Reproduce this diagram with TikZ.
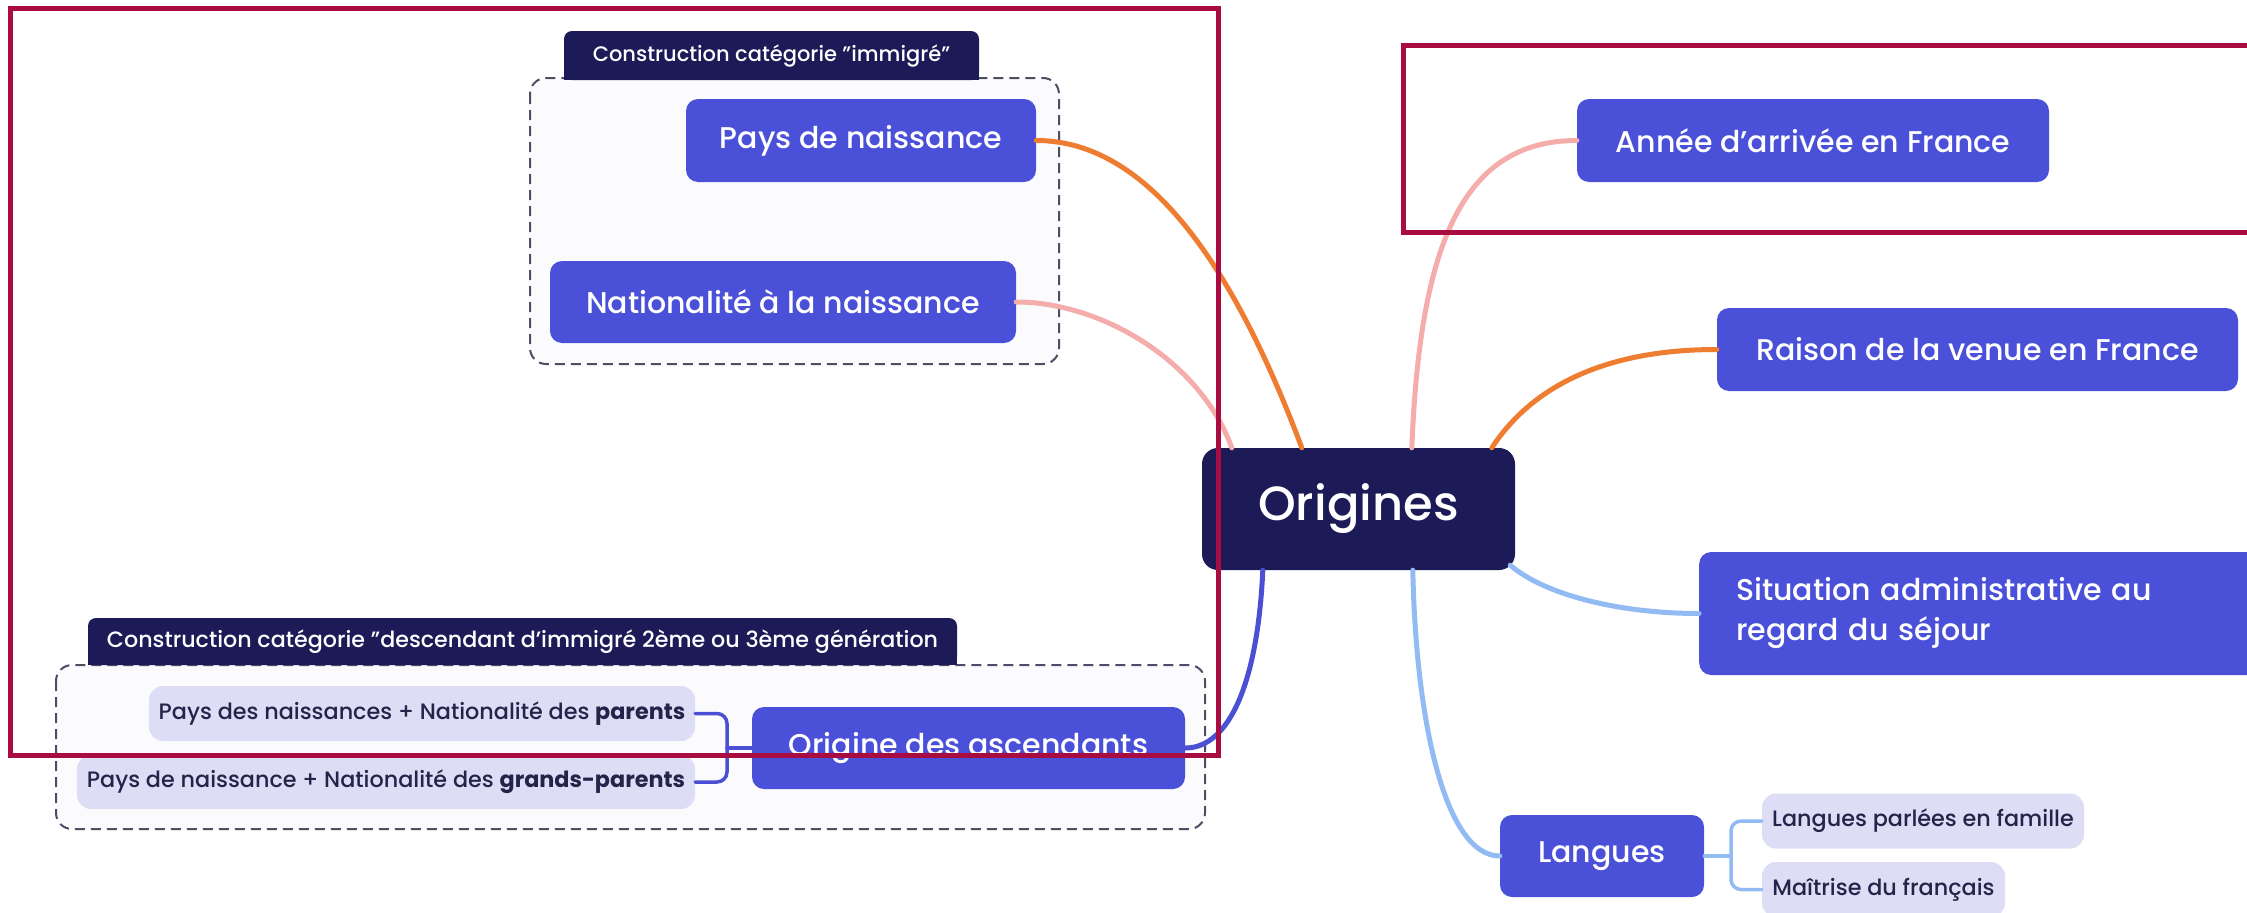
\documentclass[tikz,border=0pt]{standalone}
\usepackage{fontspec}
\setmainfont{Poppins}[UprightFont=*-Medium, BoldFont=*-Bold]
\usetikzlibrary{calc}

\definecolor{topicblue}{HTML}{4B50D9}
\definecolor{navy}{HTML}{1C1A57}
\definecolor{lav}{HTML}{DDDDF6}
\definecolor{ink}{HTML}{24244A}
\definecolor{linkorange}{HTML}{EF7D31}
\definecolor{linkpink}{HTML}{F4ADAA}
\definecolor{linksky}{HTML}{93BBF3}
\definecolor{linkindigo}{HTML}{4A4FD3}
\definecolor{crimson}{HTML}{A80C40}
\definecolor{dashgray}{HTML}{4D4D66}
\definecolor{boxfill}{HTML}{FBFBFD}

\tikzset{
  topic/.style={fill=topicblue, text=white, rounded corners=12pt, inner sep=0pt,
    align=center, font=\fontsize{30}{40}\selectfont},
  root/.style={fill=navy, text=white, rounded corners=16pt, inner sep=0pt,
    font=\fontsize{48}{56}\selectfont},
  leaf/.style={fill=lav, text=ink, rounded corners=14pt, inner sep=0pt,
    font=\fontsize{22.3}{27}\selectfont},
  headbox/.style={fill=navy, rounded corners=8pt, inner sep=0pt},
  headtext/.style={text=white, inner sep=0pt, font=\fontsize{22.2}{26}\selectfont},
  grouping/.style={draw=dashgray, fill=boxfill, line width=2pt,
    dash pattern=on 10pt off 6pt, rounded corners=16pt},
  link/.style={line width=5pt, line cap=round},
  twig/.style={line width=3.5pt, line cap=round, rounded corners=10pt},
  redframe/.style={draw=crimson, line width=5pt},
}

\begin{document}
\begin{tikzpicture}[x=1pt, y=-1pt]
\useasboundingbox[fill=white] (0,0) rectangle (2247,913);

% dashed groupings
\draw[grouping] (530,78) rectangle (1059,364);
\draw[grouping] (56,665) rectangle (1205,829);

% group headers, square at the bottom where they sit on the grouping
\node[headbox, minimum width=415pt, minimum height=49pt] (h1) at (771.5,55.5) {};
\fill[navy] ([yshift=10pt]h1.south west) rectangle (h1.south east);
\node[headtext, font=\fontsize{21}{25}\selectfont] (h1t) at (h1) {Construction catégorie "immigré"};

\node[headbox, minimum width=869pt, minimum height=47pt] (h2) at (522.5,641.5) {};
\fill[navy] ([yshift=10pt]h2.south west) rectangle (h2.south east);
\node[headtext] (h2t) at (h2) {Construction catégorie "descendant d'immigré 2ème ou 3ème génération};

% central topic and its branches
\node[root, minimum width=313pt, minimum height=122pt] (orig) at (1358.5,509) {Origines};

\node[topic, minimum width=350pt, minimum height=83pt] (pays) at (861,140.5) {Pays de naissance};
\node[topic, minimum width=466pt, minimum height=82pt] (nat) at (783,302) {Nationalité à la naissance};
\node[topic, minimum width=472pt, minimum height=83pt] (annee) at (1813,140.5) {Année d'arrivée en France};
\node[topic, minimum width=521pt, minimum height=83pt] (raison) at (1977.5,349.5) {Raison de la venue en France};
\node[topic, anchor=west, text width=486pt, inner xsep=37pt, align=left, minimum height=123pt]
  (situ) at (1699,613.5) {Situation administrative au\\regard du séjour};
\node[topic, minimum width=204pt, minimum height=82pt] (langues) at (1602,856) {Langues};
\node[topic, minimum width=433pt, minimum height=82pt] (oda) at (968.5,748) {Origine des ascendants};

% sub-items
\node[leaf, minimum width=322pt, minimum height=55pt] (lpf) at (1923,821) {Langues parlées en famille};
\node[leaf, minimum width=243pt, minimum height=55pt] (mdf) at (1883.5,889.5) {Maîtrise du français};
\node[leaf, minimum width=546pt, minimum height=55pt] (par) at (422,713.5)
  {Pays des naissances + Nationalité des \textbf{parents}};
\node[leaf, minimum width=618pt, minimum height=54pt] (gp) at (386,782)
  {Pays de naissance + Nationalité des \textbf{grands-parents}};

% junctions of the bracket connectors
\coordinate (j1) at (727,748);
\coordinate (j2) at (1731,856);

% curved branches
\draw[link, linkorange] (pays.east) .. controls +(94,0) and +(-82,-219) .. ([xshift=100pt]orig.north west);
\draw[link, linkpink] (nat.east) .. controls +(84,0) and +(-32,-88) .. ([xshift=30pt]orig.north west);
\draw[link, linkpink] (annee.west) .. controls +(-117,0) and +(8,-198) .. ([xshift=210pt]orig.north west);
\draw[link, linkorange] (raison.west) .. controls +(-117,0) and +(38,-58) .. ([xshift=290pt]orig.north west);
\draw[link, linksky] (situ.west) .. controls +(-79,0) and +(35,30) .. ([xshift=-5pt,yshift=5pt]orig.south east);
\draw[link, linksky] (langues.west) .. controls +(-55,0) and +(3,150) .. ([xshift=211pt]orig.south west);
\draw[link, linkindigo] (oda.east) .. controls +(45,0) and +(-5,110) .. ([xshift=61pt]orig.south west);

% brackets to the sub-items
\draw[twig, linkindigo] (oda.west) -- (j1);
\draw[twig, linkindigo] (par.east) -| (j1);
\draw[twig, linkindigo] (gp.east) -| (j1);
\draw[twig, linksky] (langues.east) -- (j2);
\draw[twig, linksky] (lpf.west) -| (j2);
\draw[twig, linksky] (mdf.west) -| (j2);

% highlight frames
\draw[redframe] (10.5,8.5) rectangle (1218,755);
\draw[redframe] (1403,45) rectangle (2262,232);
\end{tikzpicture}
\end{document}
